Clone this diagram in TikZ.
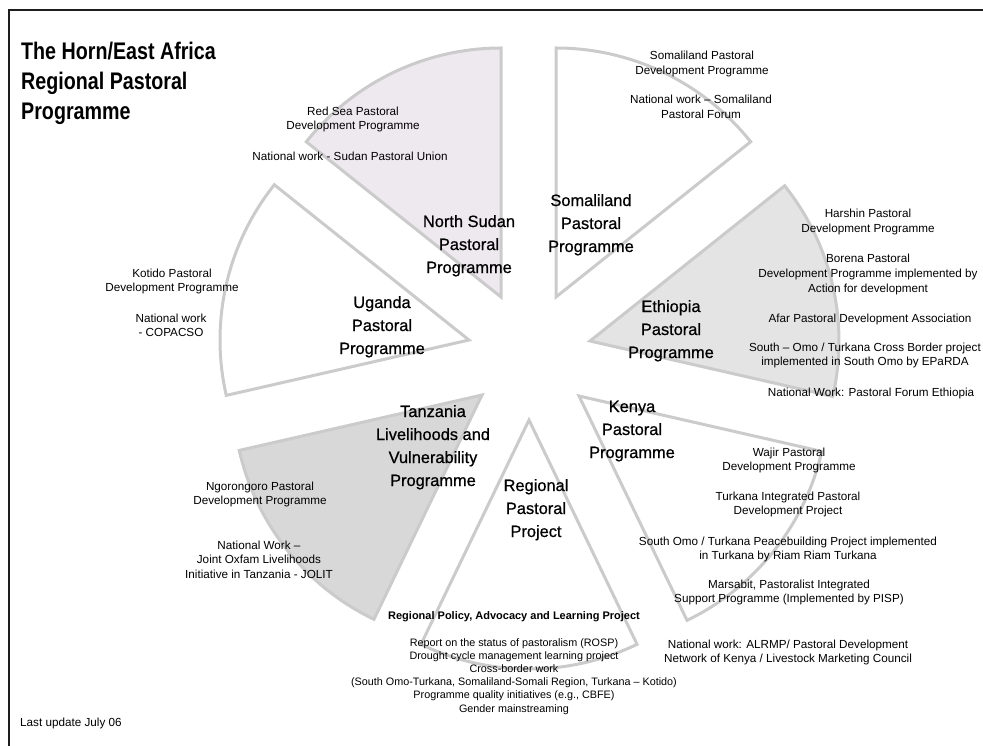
\documentclass[tikz,border=0pt]{standalone}
\usepackage{fontspec}
\setmainfont{Liberation Sans}
\newfontfamily\narrowsans[FakeStretch=0.82]{Liberation Sans}
\newfontfamily\labelsans[FakeBold=0.7]{Liberation Sans}

\definecolor{rim}{HTML}{CBCBCB}
\definecolor{sudanfill}{HTML}{EEE9EF}
\definecolor{ethfill}{HTML}{E4E4E4}
\definecolor{tanfill}{HTML}{D8D8D8}
\definecolor{framecol}{HTML}{1E1E1E}

% multi-line nodes are placed by the baseline of their last line
\tikzset{
  slice/.style={draw=rim, line width=3pt, line join=miter},
  sectorlabel/.style={align=center, anchor=base, inner sep=0pt,
    font=\labelsans\fontsize{16.4}{23}\selectfont},
  detail/.style={align=center, anchor=base, inner sep=0pt,
    font=\fontsize{11.7}{14.5}\selectfont},
  listtext/.style={align=center, anchor=base, inner sep=0pt,
    font=\fontsize{10.8}{13.2}\selectfont},
}

% one exploded pie slice: apex x, apex y, start angle (counter-clockwise), fill
\newcommand\pieslice[4]{%
  \filldraw[slice, fill=#4] (#1,#2) -- ++({-(#3)}:249)
    arc[start angle={-(#3)}, end angle={-(#3)-51.43}, radius=249] -- cycle;}

\begin{document}
\begin{tikzpicture}[x=1pt, y=-1pt]
\useasboundingbox (0,0) rectangle (983,746);
\clip (0,0) rectangle (983,746);

% outer frame
\draw[line width=2.5pt, framecol] (9,760) |- (1000,10);

% the seven programme slices
\pieslice{501}{297}{90}{sudanfill}
\pieslice{556}{297}{38.57}{white}
\pieslice{590}{341}{-12.86}{ethfill}
\pieslice{579}{396}{-64.29}{white}
\pieslice{529}{420}{-115.71}{white}
\pieslice{482}{395}{-167.14}{tanfill}
\pieslice{469}{340}{141.43}{white}

% title
\node[anchor=base west, align=left, inner sep=0pt,
      font=\narrowsans\bfseries\fontsize{24}{30}\selectfont]
  (title) at (21,120) {The Horn/East Africa\\Regional Pastoral\\Programme};

% slice labels
\node[sectorlabel] (northsudan) at (469,273) {North Sudan\\Pastoral\\Programme};
\node[sectorlabel] (somaliland) at (591,252) {Somaliland\\Pastoral\\Programme};
\node[sectorlabel] (ethiopia) at (671,358) {Ethiopia\\Pastoral\\Programme};
\node[sectorlabel] (kenya) at (632,458) {Kenya\\Pastoral\\Programme};
\node[sectorlabel] (regional) at (536,537) {Regional\\Pastoral\\Project};
\node[sectorlabel] (tanzania) at (433,486) {Tanzania\\Livelihoods and\\Vulnerability\\Programme};
\node[sectorlabel] (uganda) at (382,354) {Uganda\\Pastoral\\Programme};

% North Sudan activities
\node[detail] (redsea) at (353,130) {Red Sea Pastoral\\Development Programme};
\node[detail] (sudanunion) at (350,161) {National work - Sudan Pastoral Union};

% Somaliland activities
\node[detail] (somdev) at (702,74.5) {Somaliland Pastoral\\Development Programme};
\node[detail] (somforum) at (701,118.5) {National work – Somaliland\\Pastoral Forum};

% Uganda activities
\node[detail] (kotido) at (172,291.5) {Kotido Pastoral\\Development Programme};
\node[detail] (copacso) at (171,336.5) {National work\\- COPACSO};

% Tanzania activities
\node[detail] (ngorongoro) at (260,504.5) {Ngorongoro Pastoral\\Development Programme};
\node[detail] (jolit) at (259,578) {National Work –\\Joint Oxfam Livelihoods\\Initiative in Tanzania - JOLIT};

% Ethiopia activities
\node[detail] (harshin) at (868,232.5) {Harshin Pastoral\\Development Programme};
\node[detail] (borena) at (868,292) {Borena Pastoral\\Development Programme implemented by\\Action for development};
\node[detail] (afar) at (870,322) {Afar Pastoral Development Association};
\node[detail] (omoborder) at (865,365.5) {South – Omo / Turkana Cross Border project\\implemented in South Omo by EPaRDA};
\node[detail] (ethforum) at (871,396) {National Work: Pastoral Forum Ethiopia};

% Kenya activities
\node[detail] (wajir) at (789,470.5) {Wajir Pastoral\\Development Programme};
\node[detail] (turkana) at (788,514.5) {Turkana Integrated Pastoral\\Development Project};
\node[detail] (peace) at (788,559.5) {South Omo / Turkana Peacebuilding Project implemented\\in Turkana by Riam Riam Turkana};
\node[detail] (marsabit) at (789,602.5) {Marsabit, Pastoralist Integrated\\Support Programme (Implemented by PISP)};
\node[detail] (alrmp) at (788,662.5) {National work: ALRMP/ Pastoral Development\\Network of Kenya / Livestock Marketing Council};

% regional project activities
\node[anchor=base, inner sep=0pt, font=\bfseries\fontsize{11}{13}\selectfont]
  (rplp) at (514,619) {Regional Policy, Advocacy and Learning Project};
\node[listtext] (rplplist) at (514,712) {Report on the status of pastoralism (ROSP)\\
  Drought cycle management learning project\\
  Cross-border work\\
  (South Omo-Turkana, Somaliland-Somali Region, Turkana – Kotido)\\
  Programme quality initiatives (e.g., CBFE)\\
  Gender mainstreaming};

% footer
\node[anchor=base west, inner sep=0pt, font=\fontsize{11.7}{14}\selectfont]
  (update) at (20,726) {Last update July 06};
\end{tikzpicture}
\end{document}
